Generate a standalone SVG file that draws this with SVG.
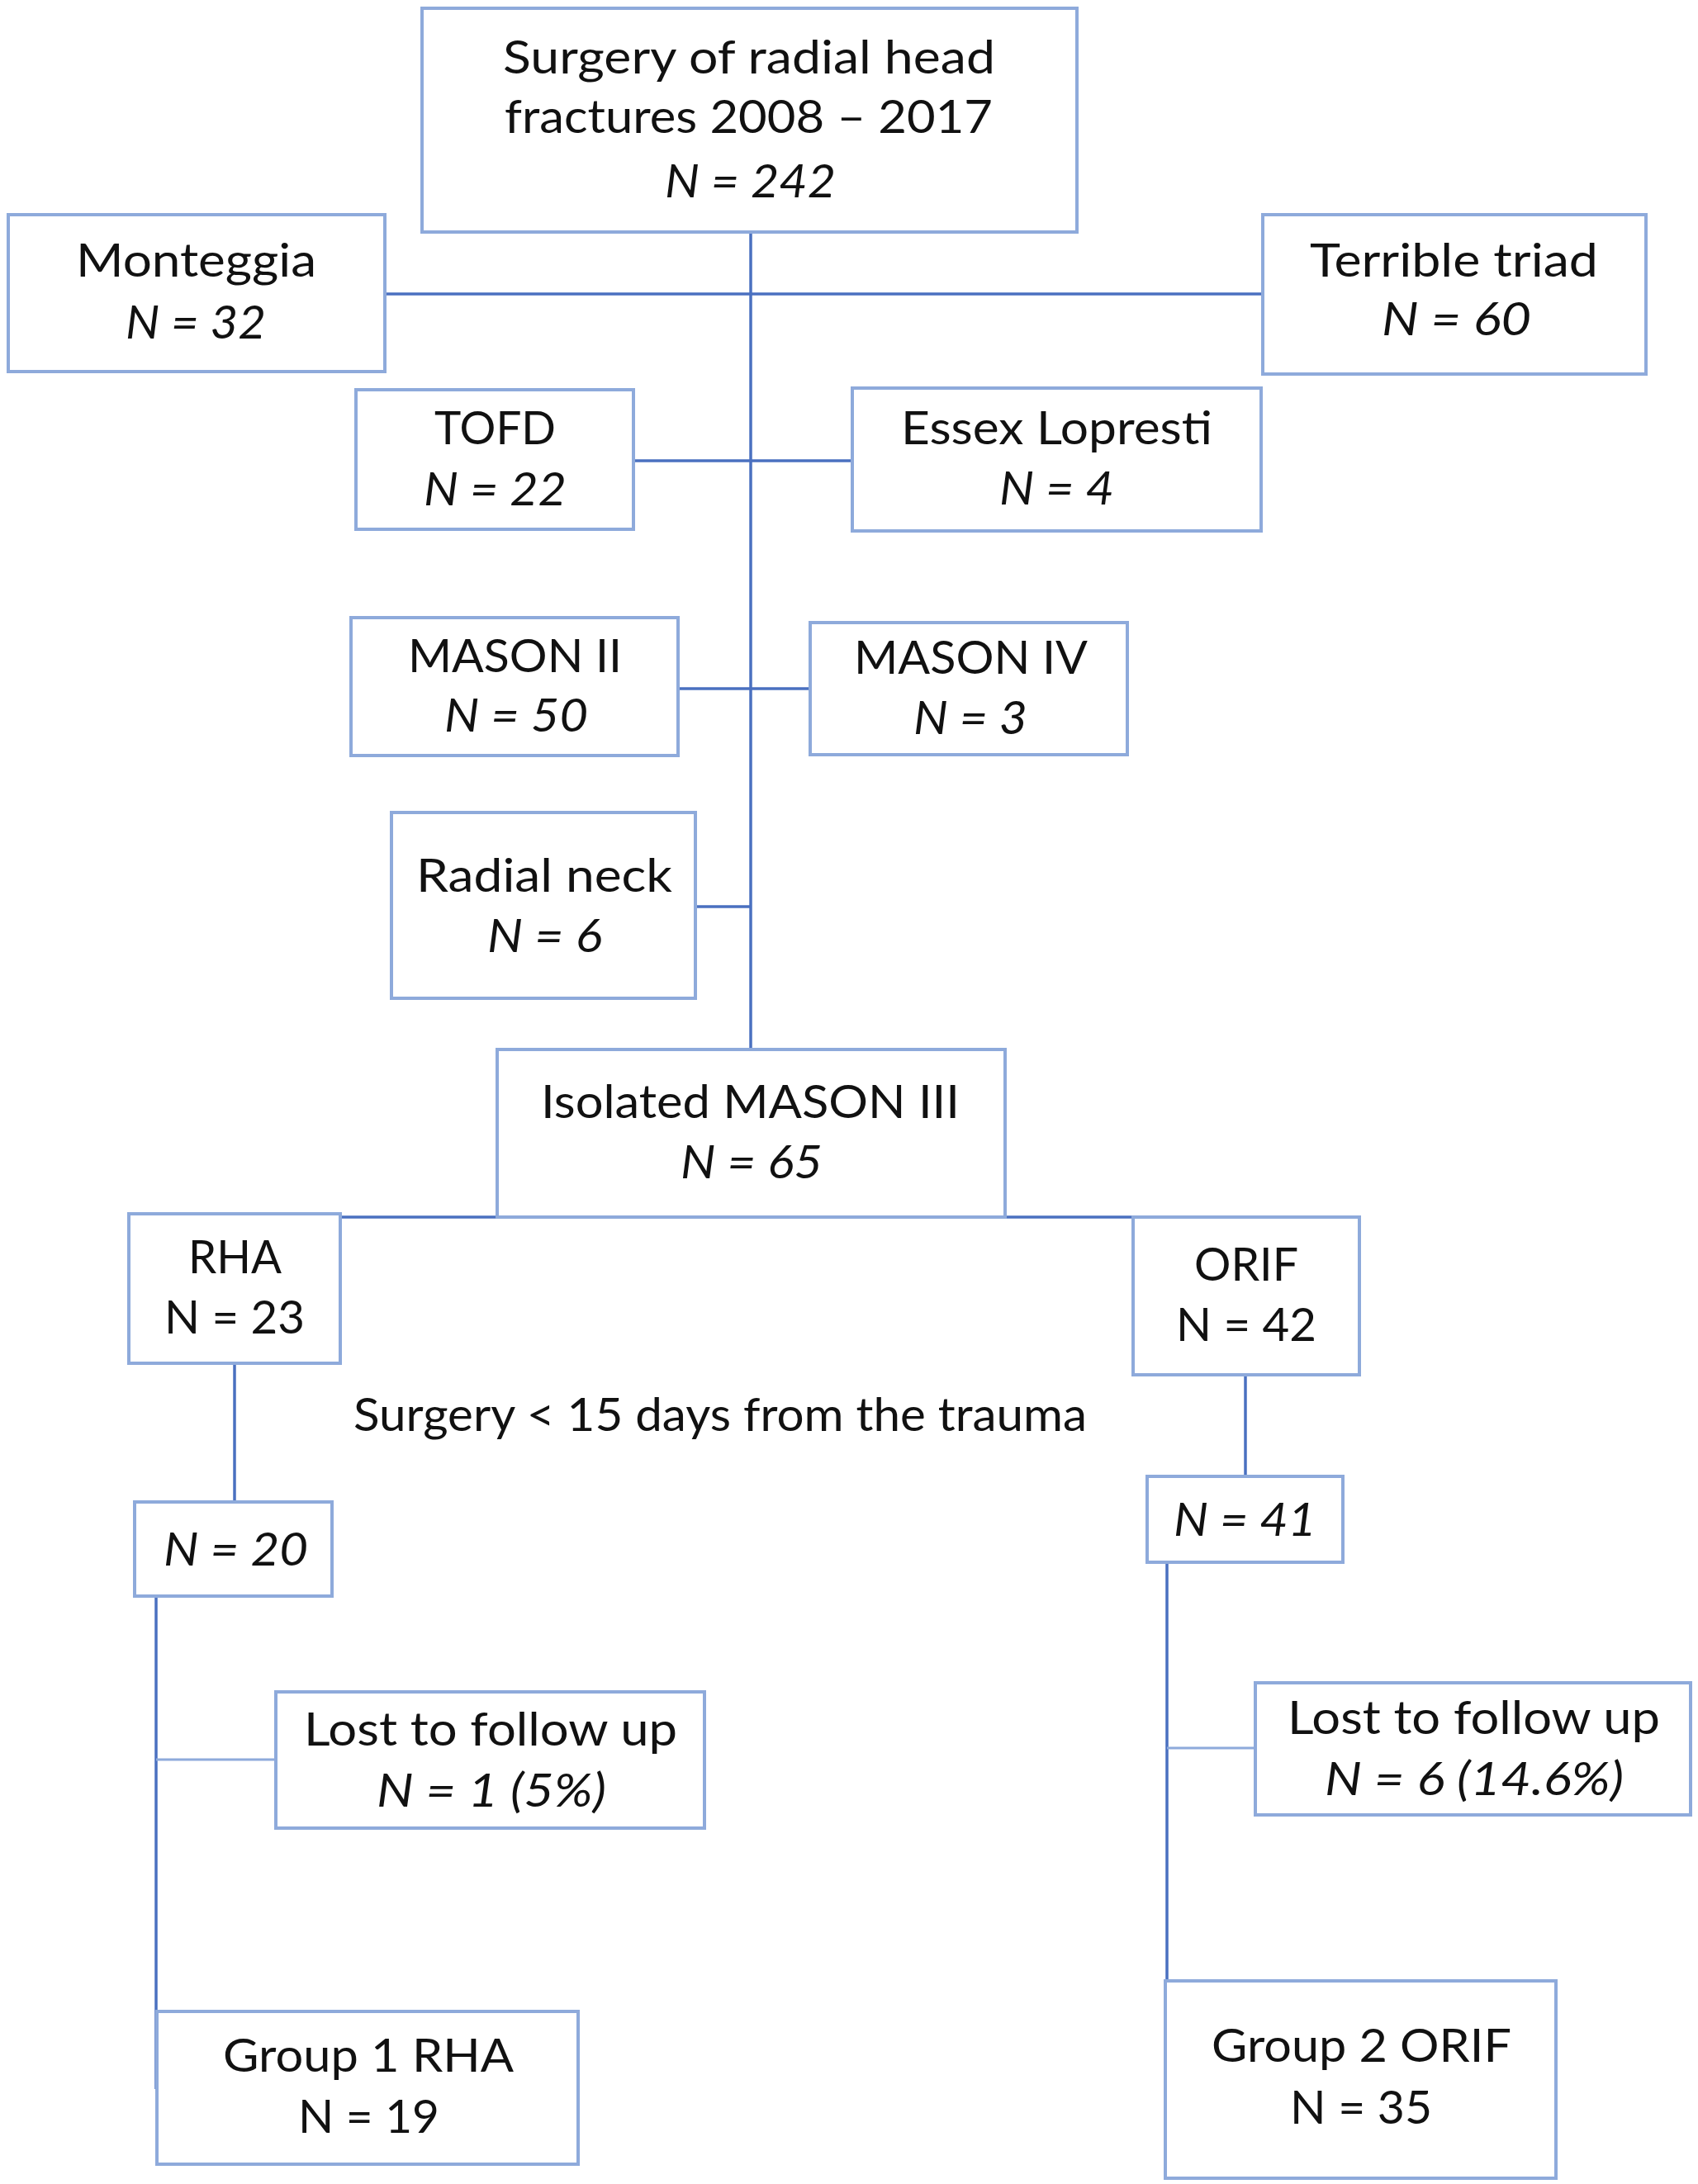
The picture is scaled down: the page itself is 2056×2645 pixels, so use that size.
<svg xmlns="http://www.w3.org/2000/svg" width="2056" height="2645" viewBox="0 0 2056 2645">
<style>
.box{fill:#ffffff;stroke:#8eaadb;stroke-width:4}
.ln{fill:none;stroke:#4a70c0;stroke-width:3.5}
.ln2{fill:none;stroke:#8eaadb;stroke-width:3}
text{font-family:Lato,"Open Sans","Liberation Sans",sans-serif;font-size:56px;fill:#111111}
.i{font-style:italic}
</style>
<rect width="2056" height="2645" fill="#ffffff"/>
<g id="connectors">
<line class="ln" x1="909" y1="281" x2="909" y2="1271"/>
<line class="ln" x1="466" y1="356" x2="1529" y2="356"/>
<line class="ln" x1="767" y1="558" x2="1032" y2="558"/>
<line class="ln" x1="821" y1="834" x2="981" y2="834"/>
<line class="ln" x1="842" y1="1098" x2="909" y2="1098"/>
<line class="ln" x1="412" y1="1474" x2="1508" y2="1474"/>
<line class="ln" x1="284" y1="1651" x2="284" y2="1819"/>
<line class="ln" x1="1508" y1="1665" x2="1508" y2="1788"/>
<line class="ln" x1="189" y1="1933" x2="189" y2="2530"/>
<line class="ln2" x1="189" y1="2131" x2="334" y2="2131"/>
<line class="ln" x1="1413" y1="1892" x2="1413" y2="2399"/>
<line class="ln2" x1="1413" y1="2117" x2="1520" y2="2117"/>
</g>
<g id="n-top"><rect class="box" x="511" y="10" width="793" height="271"/>
<text x="609" y="89" textLength="596" lengthAdjust="spacingAndGlyphs">Surgery of radial head</text>
<text x="611" y="161" textLength="591" lengthAdjust="spacingAndGlyphs">fractures 2008 – 2017</text>
<text class="i" x="805" y="239" textLength="207" lengthAdjust="spacingAndGlyphs">N = 242</text></g>
<g id="n-monteggia"><rect class="box" x="10" y="260" width="456" height="190"/>
<text x="92" y="335" textLength="291" lengthAdjust="spacingAndGlyphs">Monteggia</text>
<text class="i" x="152" y="410" textLength="170" lengthAdjust="spacingAndGlyphs">N = 32</text></g>
<g id="n-terrible"><rect class="box" x="1529" y="260" width="464" height="193"/>
<text x="1586" y="335" textLength="349" lengthAdjust="spacingAndGlyphs">Terrible triad</text>
<text class="i" x="1673" y="406" textLength="181" lengthAdjust="spacingAndGlyphs">N = 60</text></g>
<g id="n-tofd"><rect class="box" x="431" y="472" width="336" height="169"/>
<text x="526" y="538" textLength="147" lengthAdjust="spacingAndGlyphs">TOFD</text>
<text class="i" x="513" y="612" textLength="173" lengthAdjust="spacingAndGlyphs">N = 22</text></g>
<g id="n-essex"><rect class="box" x="1032" y="470" width="495" height="173"/>
<text x="1091" y="538" textLength="377" lengthAdjust="spacingAndGlyphs">Essex Lopresti</text>
<text class="i" x="1210" y="611" textLength="139" lengthAdjust="spacingAndGlyphs">N = 4</text></g>
<g id="n-mason2"><rect class="box" x="425" y="748" width="396" height="167"/>
<text x="494" y="814" textLength="259" lengthAdjust="spacingAndGlyphs">MASON II</text>
<text class="i" x="538" y="886" textLength="174" lengthAdjust="spacingAndGlyphs">N = 50</text></g>
<g id="n-mason4"><rect class="box" x="981" y="754" width="384" height="160"/>
<text x="1034" y="816" textLength="283" lengthAdjust="spacingAndGlyphs">MASON IV</text>
<text class="i" x="1106" y="889" textLength="138" lengthAdjust="spacingAndGlyphs">N = 3</text></g>
<g id="n-radial"><rect class="box" x="474" y="984" width="368" height="225"/>
<text x="504" y="1080" textLength="310" lengthAdjust="spacingAndGlyphs">Radial neck</text>
<text class="i" x="590" y="1153" textLength="139" lengthAdjust="spacingAndGlyphs">N = 6</text></g>
<g id="n-isolated"><rect class="box" x="602" y="1271" width="615" height="203"/>
<text x="655" y="1354" textLength="507" lengthAdjust="spacingAndGlyphs">Isolated MASON III</text>
<text class="i" x="824" y="1427" textLength="172" lengthAdjust="spacingAndGlyphs">N = 65</text></g>
<g id="n-rha"><rect class="box" x="156" y="1470" width="256" height="181"/>
<text x="228" y="1542" textLength="113" lengthAdjust="spacingAndGlyphs">RHA</text>
<text x="199" y="1615" textLength="170" lengthAdjust="spacingAndGlyphs">N = 23</text></g>
<g id="n-orif"><rect class="box" x="1372" y="1474" width="274" height="191"/>
<text x="1446" y="1551" textLength="126" lengthAdjust="spacingAndGlyphs">ORIF</text>
<text x="1424" y="1624" textLength="170" lengthAdjust="spacingAndGlyphs">N = 42</text></g>
<g id="label-surgery"><text x="428" y="1733" textLength="888" lengthAdjust="spacingAndGlyphs">Surgery &lt; 15 days from the trauma</text></g>
<g id="n-n20"><rect class="box" x="163" y="1819" width="239" height="114"/>
<text class="i" x="198" y="1896" textLength="175" lengthAdjust="spacingAndGlyphs">N = 20</text></g>
<g id="n-n41"><rect class="box" x="1389" y="1788" width="237" height="104"/>
<text class="i" x="1421" y="1860" textLength="173" lengthAdjust="spacingAndGlyphs">N = 41</text></g>
<g id="n-lost1"><rect class="box" x="334" y="2049" width="519" height="165"/>
<text x="368" y="2114" textLength="452" lengthAdjust="spacingAndGlyphs">Lost to follow up</text>
<text class="i" x="456" y="2188" textLength="278" lengthAdjust="spacingAndGlyphs">N = 1 (5%)</text></g>
<g id="n-lost2"><rect class="box" x="1520" y="2038" width="527" height="160"/>
<text x="1559" y="2100" textLength="451" lengthAdjust="spacingAndGlyphs">Lost to follow up</text>
<text class="i" x="1604" y="2174" textLength="362" lengthAdjust="spacingAndGlyphs">N = 6 (14.6%)</text></g>
<g id="n-group1"><rect class="box" x="190" y="2436" width="510" height="185"/>
<text x="270" y="2509" textLength="352" lengthAdjust="spacingAndGlyphs">Group 1 RHA</text>
<text x="361" y="2583" textLength="171" lengthAdjust="spacingAndGlyphs">N = 19</text></g>
<g id="n-group2"><rect class="box" x="1411" y="2399" width="473" height="239"/>
<text x="1467" y="2497" textLength="363" lengthAdjust="spacingAndGlyphs">Group 2 ORIF</text>
<text x="1562" y="2572" textLength="172" lengthAdjust="spacingAndGlyphs">N = 35</text></g>
</svg>
